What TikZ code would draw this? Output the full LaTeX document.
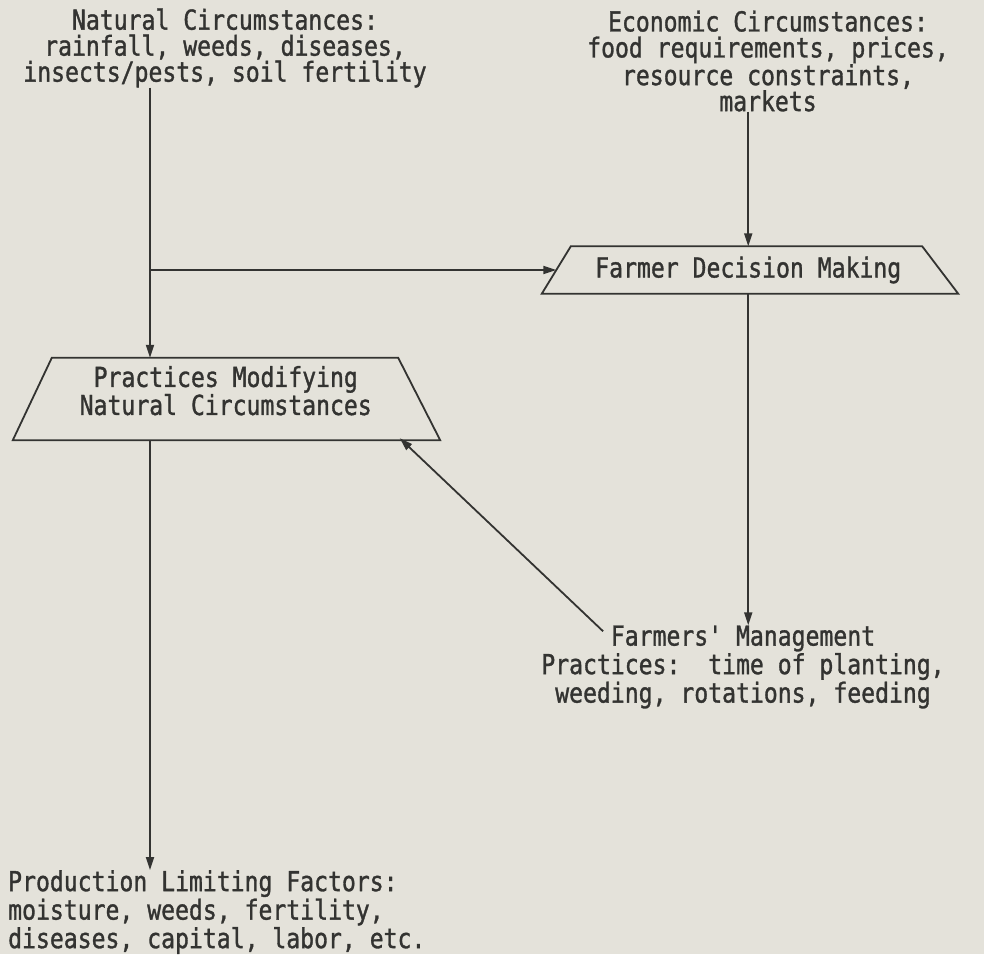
\documentclass[tikz,border=0pt]{standalone}
\usepackage{fontspec}
\newfontfamily\printfont[FakeStretch=0.84,FakeBold=1.2]{DejaVu Sans Mono}
\usetikzlibrary{arrows.meta,calc}
\definecolor{paper}{HTML}{E4E2DA}
\definecolor{ink}{HTML}{333331}
\tikzstyle{printed} = [text=ink, align=center, inner sep=0pt,
    font=\printfont\fontsize{27.5}{26}\selectfont]
\tikzstyle{frame} = [printed, rectangle]
\tikzstyle{edge} = [draw=ink, line width=1.8pt, line join=miter]
\tikzstyle{flow} = [edge, -{Triangle[length=13pt,width=8pt]}]

\begin{document}
\begin{tikzpicture}[x=1pt, y=-1pt]
\fill[paper] (0,0) rectangle (984,954);
\useasboundingbox (0,0) rectangle (984,954);

\node[printed] (nat) at (225,48) {Natural Circumstances:\\
    rainfall, weeds, diseases,\\ insects/pests, soil fertility};
\node[printed] (econ) at (768,61) {Economic Circumstances:\\
    food requirements, prices,\\ resource constraints,\\ markets};

% the two trapezoids: frame node spans the width at half height
\node[frame, minimum width=383.5pt, minimum height=47pt] (fdm) at (748.25,270)
    {Farmer Decision Making};
\draw[edge] ([xshift=14.5pt]fdm.north west) -- ([xshift=-18pt]fdm.north east)
    -- ([xshift=18pt]fdm.south east) -- ([xshift=-14.5pt]fdm.south west) -- cycle;
\node[frame, minimum width=386.5pt, minimum height=82pt] (pmnc) at (225.75,399)
    {\def\arraystretch{0.9}%
    \raisebox{0pt}[\height][\dimexpr\depth+10pt\relax]{%
    \begin{tabular}{@{}c@{}}Practices Modifying\\ Natural Circumstances\end{tabular}}};
\draw[edge] ([xshift=19.5pt]pmnc.north west) -- ([xshift=-21pt]pmnc.north east)
    -- ([xshift=21pt]pmnc.south east) -- ([xshift=-19.5pt]pmnc.south west) -- cycle;

\node[printed, font=\printfont\fontsize{27.5}{28.5}\selectfont] (fmp) at (743,667)
    {Farmers' Management\\ Practices:\ \ time of planting,\\
    weeding, rotations, feeding};
\node[printed, align=left, anchor=north west,
    font=\printfont\fontsize{27.5}{28.5}\selectfont] (plf) at (8,870)
    {Production Limiting Factors:\\ moisture, weeds, fertility,\\
    diseases, capital, labor, etc.};

% main line on the left
\coordinate (trunk) at (150,0);
\coordinate (branch) at (trunk |- fdm.west);
\draw[flow] (nat.south -| trunk) -- (pmnc.north -| trunk);
\draw[flow] (branch) -- (fdm.west);
\draw[flow] (pmnc.south -| trunk) -- (plf.north -| trunk);

% right side
\draw[flow] (econ.south -| fdm.north) -- (fdm.north);
\draw[flow] (fdm.south) -- (fmp.north -| fdm.south);
\coordinate (tail) at ([shift={(62,6)}]fmp.north west);
\draw[flow] (tail) -- ([xshift=174pt,yshift=2pt]pmnc.south);
\end{tikzpicture}
\end{document}
